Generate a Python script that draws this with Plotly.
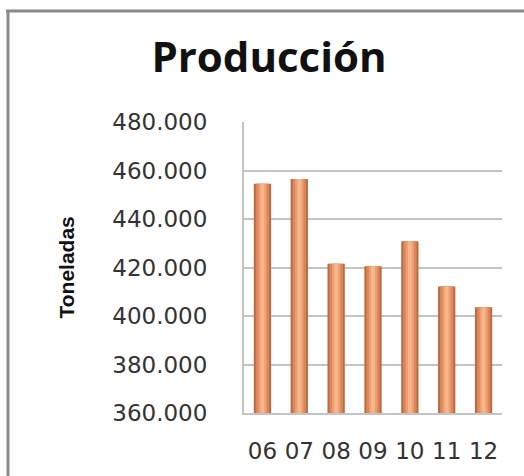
import plotly.graph_objects as go

years = ["06", "07", "08", "09", "10", "11", "12"]
toneladas = [454500, 456500, 421500, 420500, 430800, 412200, 403600]
y_ticks = [360000, 380000, 400000, 420000, 440000, 460000, 480000]

W, H = 524, 476
L, R, T, B = 244, 22, 122, 63

fig = go.Figure()
# cylinder-like shading: overlay bars of decreasing width
for w, c in [(0.47, "#BC6C42"), (0.36, "#DB875B"), (0.22, "#EFA073"), (0.10, "#F7B68C")]:
    fig.add_trace(go.Bar(x=years, y=toneladas, width=w, marker=dict(color=c, line=dict(width=0)),
                         hoverinfo="skip" if w < 0.47 else None))

fig.update_layout(
    width=W, height=H, barmode="overlay", showlegend=False,
    margin=dict(l=L, r=R, t=T, b=B),
    paper_bgcolor="white", plot_bgcolor="white",
    separators=",.",
    title=dict(text="<b>Producción</b>", x=269 / W, xanchor="center", xref="container",
               y=1 - 57 / H, yanchor="middle",
               font=dict(family="Open Sans", size=42, color="#111111")),
    annotations=[dict(text="<b>Toneladas</b>", textangle=-90, xref="paper", yref="paper",
                      x=(66 - L) / (W - L - R), y=0.5, xanchor="center", yanchor="middle",
                      showarrow=False, font=dict(family="Liberation Sans", size=21, color="#111111"))],
    shapes=[
        dict(type="line", xref="paper", yref="paper", x0=(8 - L) / (W - L - R), x1=(8 - L) / (W - L - R),
             y0=(H - B - 10) / (H - T - B), y1=-B / (H - T - B) - 0.01, line=dict(color="#8a8a8a", width=3)),
        dict(type="line", xref="paper", yref="paper", x0=(6 - L) / (W - L - R), x1=(W + 5 - L) / (W - L - R),
             y0=(H - B - 11) / (H - T - B), y1=(H - B - 11) / (H - T - B), line=dict(color="#8a8a8a", width=3)),
    ],
)
fig.update_yaxes(range=[360000, 480000], tickvals=y_ticks, tickformat=",d",
                 showgrid=True, gridcolor="#C4C4C4", gridwidth=2,
                 showline=True, linecolor="#C4C4C4", linewidth=2,
                 ticks="", ticklabelstandoff=30,
                 tickfont=dict(family="DejaVu Sans", size=23, color="#333333"), zeroline=False)
fig.update_xaxes(showline=True, linecolor="#C4C4C4", linewidth=2, ticks="",
                 ticklabelstandoff=16,
                 tickfont=dict(family="DejaVu Sans", size=23, color="#333333"))

fig.write_html("out.html")
